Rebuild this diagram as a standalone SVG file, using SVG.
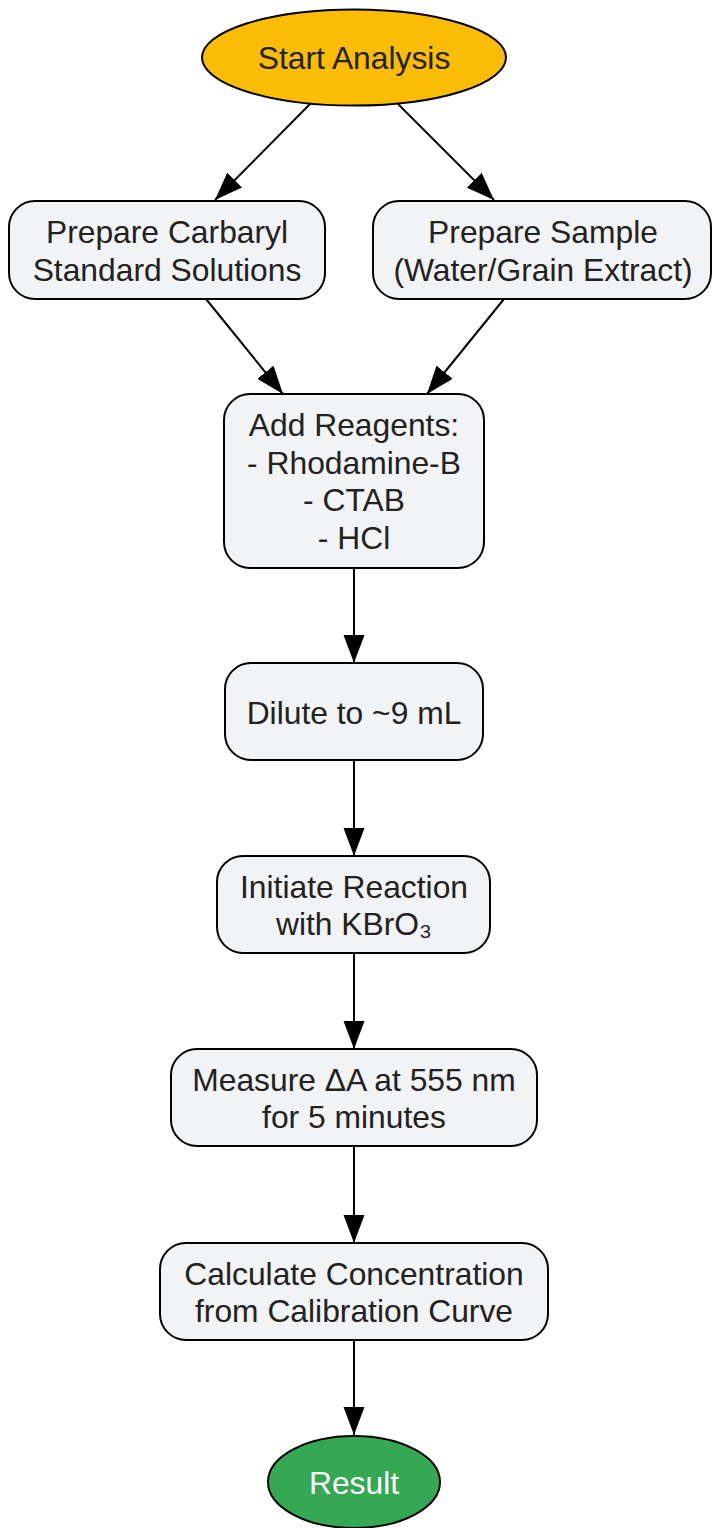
<svg xmlns="http://www.w3.org/2000/svg" width="713" height="1528" viewBox="0 0 713 1528">
<style>
.box{fill:#F1F3F4;stroke:#000;stroke-width:2}
.t{font-family:"Liberation Sans",Arial,sans-serif;font-size:31.8px;fill:#222;text-anchor:middle}
.edge{stroke:#000;stroke-width:2;fill:none;marker-end:url(#ah)}
</style>
<defs>
<marker id="ah" markerUnits="userSpaceOnUse" markerWidth="28" markerHeight="22" refX="28" refY="11" orient="auto">
<path d="M0,0.5 L28,11 L0,21.5 z" fill="#000"/>
</marker>
</defs>
<rect width="713" height="1528" fill="#fff"/>
<g id="connectors">
<path class="edge" d="M310,104 L215,200"/>
<path class="edge" d="M398,104 L494,200"/>
<path class="edge" d="M206,299 L283,394"/>
<path class="edge" d="M504,299 L427,394"/>
<path class="edge" d="M354,568 L354,663"/>
<path class="edge" d="M354,760 L354,856"/>
<path class="edge" d="M354,953 L354,1049"/>
<path class="edge" d="M354,1146 L354,1243"/>
<path class="edge" d="M354,1340 L354,1435"/>
</g>
<g id="start">
<ellipse cx="354" cy="57.5" rx="152" ry="48" fill="#FBBC05" stroke="#000" stroke-width="2"/>
<text class="t" x="354" y="69">Start Analysis</text>
</g>
<g id="prep_std">
<rect class="box" x="9" y="201" width="316" height="98" rx="26"/>
<text class="t" x="167" y="243">Prepare Carbaryl</text>
<text class="t" x="167" y="281">Standard Solutions</text>
</g>
<g id="prep_sample">
<rect class="box" x="373" y="201" width="338" height="98" rx="26"/>
<text class="t" x="543" y="243">Prepare Sample</text>
<text class="t" x="543" y="281">(Water/Grain Extract)</text>
</g>
<g id="reagents">
<rect class="box" x="224" y="394" width="260" height="174" rx="26"/>
<text class="t" x="354" y="436">Add Reagents:</text>
<text class="t" x="354" y="474">- Rhodamine-B</text>
<text class="t" x="354" y="511">- CTAB</text>
<text class="t" x="354" y="549">- HCl</text>
</g>
<g id="dilute">
<rect class="box" x="225" y="663" width="258" height="97" rx="26"/>
<text class="t" x="354" y="724">Dilute to ~9 mL</text>
</g>
<g id="initiate">
<rect class="box" x="217" y="856" width="273" height="97" rx="26"/>
<text class="t" x="354" y="898">Initiate Reaction</text>
<text class="t" x="354" y="935">with KBrO₃</text>
</g>
<g id="measure">
<rect class="box" x="171" y="1049" width="366" height="97" rx="26"/>
<text class="t" x="354" y="1091">Measure ΔA at 555 nm</text>
<text class="t" x="354" y="1128">for 5 minutes</text>
</g>
<g id="calculate">
<rect class="box" x="160" y="1243" width="388" height="97" rx="26"/>
<text class="t" x="354" y="1285">Calculate Concentration</text>
<text class="t" x="354" y="1322">from Calibration Curve</text>
</g>
<g id="result">
<ellipse cx="354" cy="1482" rx="86" ry="46" fill="#34A853" stroke="#000" stroke-width="2"/>
<text class="t" x="354" y="1494" style="fill:#fff">Result</text>
</g>
</svg>
